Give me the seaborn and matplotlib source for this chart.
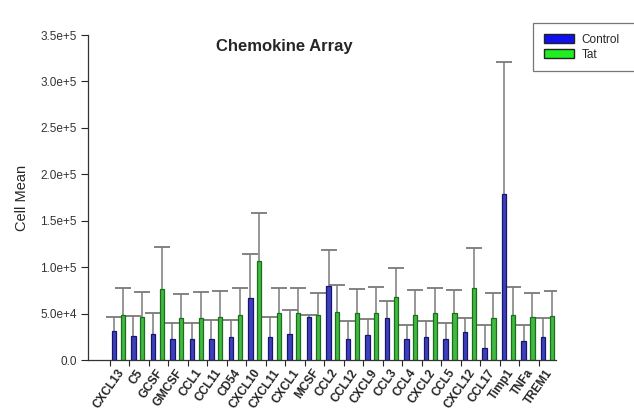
import numpy as np
import pandas as pd
import seaborn as sns
import matplotlib.pyplot as plt
from matplotlib.patches import Patch
from matplotlib.ticker import FuncFormatter
from matplotlib.transforms import ScaledTranslation

# values
cytokines = ["CXCL13", "C5", "GCSF", "GMCSF", "CCL1", "CCL11", "CD54", "CXCL10",
             "CXCL11", "CXCL1", "MCSF", "CCL2", "CCL12", "CXCL9", "CCL3", "CCL4",
             "CXCL2", "CCL5", "CXCL12", "CCL17", "Timp1", "TNFa", "TREM1"]
control_mean = [31600, 26200, 28000, 22600, 22300, 22600, 24400, 66400,
                25100, 28000, 46600, 79700, 22300, 26900, 44900, 22600,
                24400, 23000, 30500, 12600, 179000, 20800, 25100]
control_top = [46600, 47700, 50900, 39500, 40200, 43100, 43100, 114000,
               46600, 53900, 48500, 118000, 42300, 43800, 63900, 37700,
               42300, 40200, 44900, 37700, 321000, 37700, 44900]
tat_mean = [48500, 46600, 76100, 44900, 44900, 46000, 48500, 107000,
            50900, 50900, 48500, 52000, 50300, 50900, 67500, 48500,
            50900, 50300, 77900, 44900, 48500, 46600, 47400]
tat_top = [77200, 73600, 122000, 71100, 73600, 74300, 77200, 158000,
           77200, 77200, 71800, 80800, 76100, 79000, 98800, 75400,
           77200, 75400, 121000, 71800, 79000, 71800, 74300]
groups = ["Control", "Tat"]

df = pd.DataFrame({
    "cytokine": cytokines * 2,
    "group": ["Control"] * len(cytokines) + ["Tat"] * len(cytokines),
    "mean": control_mean + tat_mean,
    "top": control_top + tat_top,
})

sns.set_style("white")
plt.rcParams['font.family'] = ['Liberation Sans', 'DejaVu Sans']

fig = plt.figure(figsize=(6.34, 4.12), dpi=100)
ax = fig.add_axes([0.139, 0.126, 0.738, 0.789])

face = {"Control": "#2a2ad0", "Tat": "#30cc30"}
edge = {"Control": "#16166e", "Tat": "#1a701a"}

sns.barplot(data=df, x="cytokine", y="mean", hue="group", hue_order=groups,
            palette=face, width=0.9, gap=0.5, errorbar=None, legend=False, ax=ax)

# upper error bars only, placed on the bars seaborn drew
for cont, g in zip(ax.containers, groups):
    sub = df[df.group == g]
    for bar, m, t in zip(cont, sub["mean"], sub["top"]):
        bar.set_edgecolor(edge[g])
        bar.set_linewidth(0.9)
        bar.set_zorder(2)
        xc = bar.get_x() + bar.get_width() / 2
        eb = ax.errorbar(xc, m, yerr=[[0], [t - m]], fmt="none", ecolor="#7a7a7a",
                         elinewidth=1.1, capsize=5.5, capthick=1.3, zorder=1)
        caps = eb.lines[1]
        caps[0].set_visible(False)
        caps[1].set_color("#505050")

ax.set_ylim(0, 350000)
ax.set_xlim(-1.55, len(cytokines) - 0.56)
ax.set_yticks(np.arange(0, 350001, 50000))


def sci(v, pos):
    if v == 0:
        return "0.0"
    e = int(np.floor(np.log10(v)))
    return f"{v / 10 ** e:.1f}e+{e}"


ax.yaxis.set_major_formatter(FuncFormatter(sci))
ax.tick_params(axis="y", direction="out", length=5, width=0.8, labelsize=8.5,
               left=True, pad=3, labelcolor="#333333")

ax.set_xticks(np.arange(len(cytokines)) - 0.45)
ax.set_xticklabels(cytokines, rotation=55, ha="right", rotation_mode="anchor",
                   fontsize=8.5, fontweight="bold")
ax.tick_params(axis="x", direction="out", length=4, width=0.8, bottom=True, pad=1)
for lab in ax.get_xticklabels():
    lab.set_transform(lab.get_transform() + ScaledTranslation(0.07, 0, fig.dpi_scale_trans))

ax.set_xlabel("")
ax.set_ylabel("Cell Mean", fontsize=10.5, labelpad=8)

for s in ["top", "right"]:
    ax.spines[s].set_visible(False)
for s in ["left", "bottom"]:
    ax.spines[s].set_color("#333333")
    ax.spines[s].set_linewidth(0.9)

ax.text(0.42, 0.965, "Chemokine Array", transform=ax.transAxes, ha="center", va="center",
        fontsize=12, fontweight="bold")

# legend box runs off the right edge, as in the original
handles = [Patch(facecolor="#1010f0", edgecolor="#222222", label="Control"),
           Patch(facecolor="#20ee20", edgecolor="#222222", label="Tat")]
leg = fig.legend(handles=handles, loc="upper left",
                 bbox_to_anchor=(533 / 634, 1 - 23 / 412, 0.2, 0), mode="expand",
                 fontsize=8.5, frameon=True, fancybox=False, edgecolor="#555555",
                 handlelength=2.6, handleheight=0.8, labelspacing=0.25, borderpad=0.9,
                 handletextpad=0.6, borderaxespad=0)
leg.get_frame().set_linewidth(0.9)

fig.savefig("out.png", dpi=100)
